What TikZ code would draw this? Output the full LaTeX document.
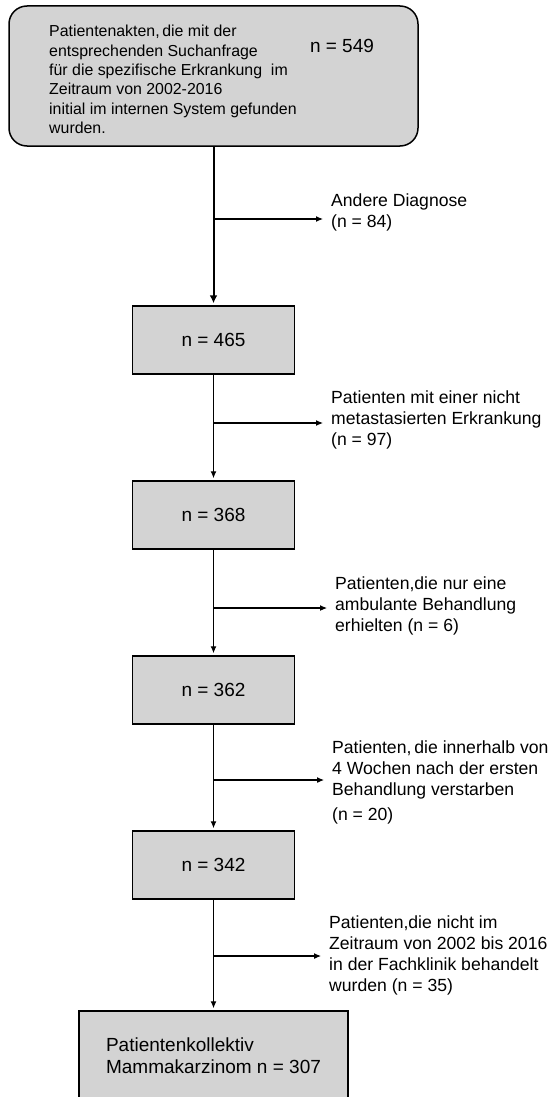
\documentclass[tikz,border=0pt]{standalone}
\usepackage{fontspec}
\setmainfont{Liberation Sans}
\usepackage{xcolor}
\usepackage{tikz}
\usetikzlibrary{shapes.geometric, arrows.meta, positioning}
\definecolor{BoxGray}{HTML}{D3D3D3}

\begin{document}
\begin{tikzpicture}[node distance=175pt]
    \tikzstyle{source} = [rectangle, rounded corners=18pt, minimum width=409pt, minimum height=140pt, draw=black, line width=1.5pt, fill=BoxGray]
    \tikzstyle{count} = [rectangle, minimum width=162pt, minimum height=68pt, text centered, draw=black, line width=1.5pt, fill=BoxGray, font=\fontsize{19}{22}\selectfont]
    \tikzstyle{result} = [rectangle, minimum width=269pt, minimum height=90pt, align=left, draw=black, line width=1.5pt, fill=BoxGray, font=\fontsize{19}{22}\selectfont]
    \tikzstyle{excl} = [anchor=west, align=left, inner xsep=8pt, inner ysep=0pt, font=\fontsize{17.6}{21}\selectfont]
    \tikzstyle{arrow} = [line width=1.1pt, -{Latex[length=7pt,width=6pt]}, shorten >=2pt]
    \tikzstyle{mainarrow} = [line width=2pt, -{Latex[length=8pt,width=8pt]}, shorten >=2pt]

    \useasboundingbox (0,0) rectangle (549pt,-1097pt);
    \clip (0,0) rectangle (549pt,-1097pt);

    \node (top) [source] at (213.5pt,-76pt) {};
    \node (toptext) [anchor=north west, align=left, inner sep=0pt, font=\fontsize{15.9}{19.4}\selectfont] at (49pt,-25pt) {Patientenakten,\,die mit der\\entsprechenden Suchanfrage\\für die spezifische Erkrankung~ im\\Zeitraum von 2002-2016\\initial im internen System gefunden\\wurden.};
    \node (n549) [font=\fontsize{19}{22}\selectfont] at (342pt,-46pt) {n = 549};
    \node (b465) [count, node distance=264pt, below of=top] {n = 465};
    \node (b368) [count, below of=b465] {n = 368};
    \node (b362) [count, below of=b368] {n = 362};
    \node (b342) [count, below of=b362] {n = 342};
    \node (final) [result, node distance=191pt, below of=b342] {Patientenkollektiv\\Mammakarzinom n = 307};

    \node (lab84) [excl] at (323pt,-212pt) {Andere Diagnose\\(n = 84)};
    \node (lab97) [excl] at (323pt,-420pt) {Patienten mit einer nicht\\metastasierten Erkrankung\\(n = 97)};
    \node (lab6) [excl] at (327pt,-606pt) {Patienten,die nur eine\\ambulante Behandlung\\erhielten (n = 6)};
    \node (lab20) [excl] at (324pt,-782pt) {Patienten,\,die innerhalb von\\4 Wochen nach der ersten\\Behandlung verstarben\\[4pt](n = 20)};
    \node (lab35) [excl] at (321pt,-955pt) {Patienten,die nicht im\\Zeitraum von 2002 bis 2016\\in der Fachklinik behandelt\\wurden (n = 35)};

    \coordinate (s84) at (top.south |- 0,-219pt);
    \coordinate (s97) at (b465.south |- 0,-423pt);
    \coordinate (s6) at (b368.south |- 0,-608pt);
    \coordinate (s20) at (b362.south |- 0,-780pt);
    \coordinate (s35) at (b342.south |- 0,-956pt);

    \draw [mainarrow] (top) -- (b465);
    \draw [arrow] (b465) -- (b368);
    \draw [arrow] (b368) -- (b362);
    \draw [arrow] (b362) -- (b342);
    \draw [arrow] (b342) -- (final);

    \draw [arrow, shorten >=0pt] (s84) -- (s84 -| lab84.west);
    \draw [arrow, shorten >=0pt] (s97) -- (s97 -| lab97.west);
    \draw [arrow, shorten >=0pt] (s6) -- (s6 -| lab6.west);
    \draw [arrow, shorten >=0pt] (s20) -- (s20 -| lab20.west);
    \draw [arrow, shorten >=0pt] (s35) -- (s35 -| lab35.west);

\end{tikzpicture}
\end{document}
